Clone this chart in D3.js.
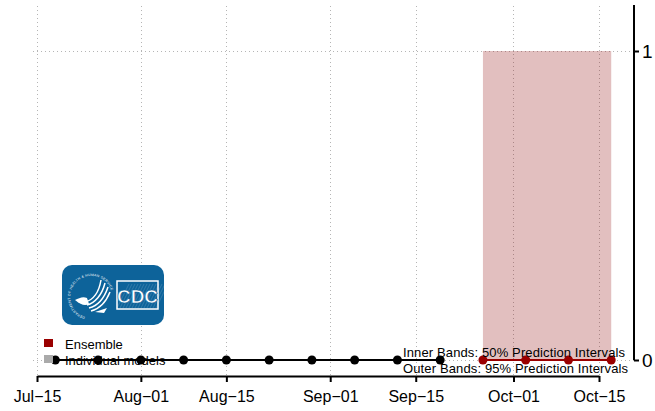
<!DOCTYPE html>
<html>
<head>
<meta charset="utf-8">
<script src="https://cdn.jsdelivr.net/npm/d3@7"></script>
<style>
  html, body { margin: 0; padding: 0; background: #fff; }
  svg { display: block; font-family: "Liberation Sans", Arial, Helvetica, sans-serif; }
</style>
</head>
<body>
<svg id="chart" width="655" height="411"></svg>
<script>
// Weekly observed counts (week-ending dates) and ensemble forecast
const observedDates = ["2020-07-18","2020-07-25","2020-08-01","2020-08-08","2020-08-15",
                       "2020-08-22","2020-08-29","2020-09-05","2020-09-12","2020-09-19"];
const observedValues = [0, 0, 0, 0, 0, 0, 0, 0, 0, 0];

const forecastDates = ["2020-09-26","2020-10-03","2020-10-10","2020-10-17"];
const forecastValues = [0, 0, 0, 0];
const outerLower = [0, 0, 0, 0];   // 95% prediction interval
const outerUpper = [1, 1, 1, 1];
const innerLower = [0, 0, 0, 0];   // 50% prediction interval
const innerUpper = [0, 0, 0, 0];

const xTickDates = ["2020-07-15","2020-08-01","2020-08-15","2020-09-01","2020-09-15","2020-10-01","2020-10-15"];
const yTicks = [0, 1];

const legendLabels = ["Ensemble", "Individual models"];
const bandNotes = ["Inner Bands: 50% Prediction Intervals", "Outer Bands: 95% Prediction Intervals"];

const parse = d3.utcParse("%Y-%m-%d");
const fmt = d3.utcFormat("%b\u2212%d");

const svg = d3.select("#chart");
const ensembleColor = "#9a0000";

const x = d3.scaleUtc()
  .domain([parse("2020-07-15"), parse("2020-10-15")])
  .range([37, 599]);
const y = d3.scaleLinear().domain([0, 1]).range([360, 51]);

const plotLeft = 33, plotRight = 634, plotTop = 6, plotBottom = 375;

// dotted grid
const grid = svg.append("g").attr("stroke", "#b5b5b5").attr("stroke-width", 1)
  .attr("stroke-dasharray", "1,3");
grid.selectAll("line.v").data(xTickDates.map(parse)).join("line")
  .attr("x1", d => Math.round(x(d)) + 0.5).attr("x2", d => Math.round(x(d)) + 0.5)
  .attr("y1", plotTop).attr("y2", plotBottom);
grid.selectAll("line.h").data(yTicks).join("line")
  .attr("x1", plotLeft).attr("x2", plotRight)
  .attr("y1", d => Math.round(y(d)) + 0.5).attr("y2", d => Math.round(y(d)) + 0.5);

// prediction bands
const fc = forecastDates.map((d, i) => ({
  date: parse(d), value: forecastValues[i],
  lo95: outerLower[i], hi95: outerUpper[i], lo50: innerLower[i], hi50: innerUpper[i]
}));
svg.append("path").datum(fc)
  .attr("fill", "#8b0000").attr("fill-opacity", 0.25)
  .attr("d", d3.area().x(d => x(d.date)).y0(d => y(d.lo95)).y1(d => y(d.hi95)));
svg.append("path").datum(fc)
  .attr("fill", "#8b0000").attr("fill-opacity", 0.3)
  .attr("d", d3.area().x(d => x(d.date)).y0(d => y(d.lo50)).y1(d => y(d.hi50)));

// observed series
const obs = observedDates.map((d, i) => ({ date: parse(d), value: observedValues[i] }));
const line = d3.line().x(d => x(d.date)).y(d => y(d.value));
svg.append("path").datum(obs).attr("fill", "none").attr("stroke", "#000")
  .attr("stroke-width", 2).attr("d", line);
svg.append("g").selectAll("circle").data(obs).join("circle")
  .attr("cx", d => x(d.date)).attr("cy", d => y(d.value)).attr("r", 4.5).attr("fill", "#000");

// ensemble forecast
svg.append("path").datum(fc).attr("fill", "none").attr("stroke", ensembleColor)
  .attr("stroke-width", 2).attr("d", line);
svg.append("g").selectAll("circle").data(fc).join("circle")
  .attr("cx", d => x(d.date)).attr("cy", d => y(d.value)).attr("r", 4.5).attr("fill", ensembleColor);

// bottom axis
const xAxis = d3.axisBottom(x).tickValues(xTickDates.map(parse)).tickFormat(fmt)
  .tickSizeInner(6).tickSizeOuter(0).tickPadding(9);
const gx = svg.append("g").attr("transform", "translate(0,376)").call(xAxis);
gx.select(".domain").attr("stroke", "#000").attr("stroke-width", 2);
gx.selectAll(".tick line").attr("stroke", "#000").attr("stroke-width", 2);
gx.selectAll(".tick text").attr("font-size", 16).attr("fill", "#000")
  .attr("font-family", "Liberation Sans, Arial, sans-serif");

// right axis
const yAxis = d3.axisRight(y).tickValues(yTicks).tickFormat(d3.format("d"))
  .tickSizeInner(5).tickSizeOuter(0).tickPadding(3);
const gy = svg.append("g").attr("transform", "translate(634,0)").call(yAxis);
gy.select(".domain").attr("stroke", "#000").attr("stroke-width", 2)
  .attr("d", `M0,${plotTop - 1}V${y(0)}`);
gy.selectAll(".tick line").attr("stroke", "#000").attr("stroke-width", 2);
gy.selectAll(".tick text").attr("font-size", 19).attr("fill", "#000")
  .attr("font-family", "Liberation Sans, Arial, sans-serif");

// legend
const legendColors = [ensembleColor, "#aaaaaa"];
const lg = svg.append("g");
legendLabels.forEach((t, i) => {
  lg.append("rect").attr("x", 44).attr("y", 339 + i * 16).attr("width", 9).attr("height", 8)
    .attr("fill", legendColors[i]);
  lg.append("text").attr("x", 65).attr("y", 348.5 + i * 16).attr("font-size", 13)
    .attr("fill", "#000").text(t);
});

// band notes
bandNotes.forEach((t, i) => {
  svg.append("text").attr("x", 403).attr("y", 357 + i * 16).attr("font-size", 13)
    .attr("fill", "#000").attr("textLength", i === 0 ? 222 : 225).text(t);
});

// CDC / HHS logo
const logo = svg.append("g").attr("transform", "translate(62,265)");
logo.append("rect").attr("width", 102).attr("height", 60).attr("rx", 10).attr("fill", "#0d639a");
// HHS seal: ring of text with eagle swooshes
const seal = logo.append("g").attr("transform", "translate(29,31)");
seal.append("path").attr("id", "sealArc")
  .attr("d", "M-6,21 A21,21 0 1,1 20,-6").attr("fill", "none");
seal.append("text").attr("font-size", 3.4).attr("fill", "#fff").attr("letter-spacing", 0.3)
  .append("textPath").attr("href", "#sealArc")
  .text("DEPARTMENT OF HEALTH & HUMAN SERVICES USA");
const swoosh = [
  "M-6,6 C2,4 8,-4 10,-16",
  "M-4,9 C4,7 11,-1 14,-13",
  "M-2,12 C6,10 13,3 17,-9",
  "M0,15 C8,13 15,6 19,-4"
];
seal.selectAll("path.s").data(swoosh).join("path")
  .attr("d", d => d).attr("fill", "none").attr("stroke", "#fff").attr("stroke-width", 1.5);
seal.append("path").attr("d", "M-16,4 C-12,2 -8,0 -4,2 L-2,8 C-6,10 -10,9 -16,4 Z").attr("fill", "#fff");
seal.append("path").attr("d", "M4,16 L16,12 L13,17 Z").attr("fill", "#fff");
// CDC box
const box = logo.append("g").attr("transform", "translate(55,16)");
box.append("rect").attr("width", 41).attr("height", 28).attr("fill", "none")
  .attr("stroke", "#fff").attr("stroke-width", 1.5);
box.selectAll("line").data(d3.range(0, 40, 3)).join("line")
  .attr("x1", d => d).attr("y1", 27).attr("x2", d => d + 12).attr("y2", 3)
  .attr("stroke", "#ffffff").attr("stroke-opacity", 0.25).attr("stroke-width", 0.6);
box.append("text").attr("x", 20.5).attr("y", 22).attr("text-anchor", "middle")
  .attr("font-size", 19).attr("font-weight", "bold").attr("fill", "#fff")
  .attr("stroke", "#0d639a").attr("stroke-width", 0.6)
  .attr("font-family", "Liberation Sans Narrow, Liberation Sans, Arial, sans-serif")
  .text("CDC");
</script>
</body>
</html>
